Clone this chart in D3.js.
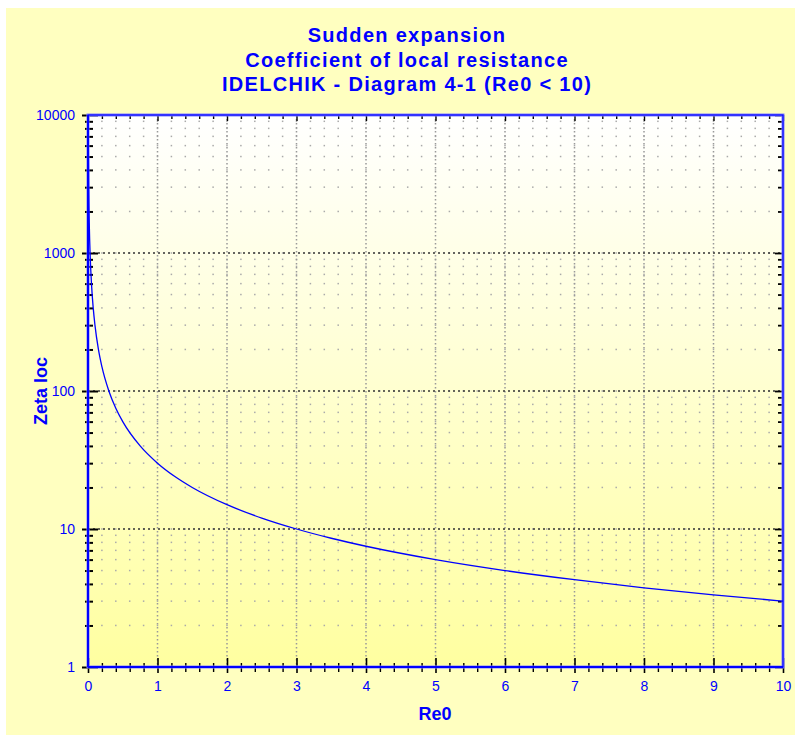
<!DOCTYPE html>
<html>
<head>
<meta charset="utf-8">
<script src="https://cdn.jsdelivr.net/npm/d3@7"></script>
<style>
  body { margin: 0; background: #fff; }
  text { font-family: "Liberation Sans", Arial, sans-serif; }
</style>
</head>
<body>
<svg id="chart" width="795" height="735"></svg>
<script>
const titleLines = ['Sudden expansion', 'Coefficient of local resistance', 'IDELCHIK - Diagram 4-1 (Re0 < 10)'];
const re0 = [0.003, 0.005, 0.01, 0.02, 0.03, 0.05, 0.075, 0.1, 0.15, 0.2, 0.3, 0.4, 0.5, 0.75, 1, 1.25, 1.5, 2, 2.5, 3, 3.5, 4, 5, 6, 7, 8, 9, 10];
const zeta = [10000, 6000, 3000, 1500, 1000, 600, 400, 300, 200, 150, 100, 75, 60, 40, 30, 24, 20, 15, 12, 10, 8.57, 7.5, 6, 5, 4.29, 3.75, 3.33, 3];
const xTicks = [0, 1, 2, 3, 4, 5, 6, 7, 8, 9, 10];
const yTicks = [1, 10, 100, 1000, 10000];

const svg = d3.select('#chart');
const blue = '#0000ff';
const m = { left: 88, right: 783, top: 115, bottom: 667 };

const defs = svg.append('defs');
const grad = defs.append('linearGradient').attr('id', 'plotBg').attr('x1', 0).attr('y1', 0).attr('x2', 0).attr('y2', 1);
grad.append('stop').attr('offset', '0%').attr('stop-color', '#ffffff');
grad.append('stop').attr('offset', '100%').attr('stop-color', '#ffffa0');

svg.append('rect').attr('x', 6).attr('y', 8).attr('width', 789).attr('height', 727).attr('fill', '#ffffc0');

const x = d3.scaleLinear().domain([0, 10]).range([m.left, m.right]);
const y = d3.scaleLog().domain([1, 10000]).range([m.bottom, m.top]);

svg.append('rect').attr('x', m.left).attr('y', m.top).attr('width', m.right - m.left).attr('height', m.bottom - m.top).attr('fill', 'url(#plotBg)');

// minor values
const xMinor = d3.range(0, 50).map((i) => i * 0.2).filter((v) => Math.abs(v - Math.round(v)) > 1e-6);
const xAll = d3.range(0, 51).map((i) => i * 0.2);
const yMinor = [];
[1, 10, 100, 1000].forEach((d) => { for (let k = 2; k <= 9; k++) yMinor.push(d * k); });

// minor grid: dots at the crossings
const grid = svg.append('g');
const crossings = [];
xAll.forEach((xv) => yMinor.forEach((yv) => crossings.push([xv, yv])));
xMinor.forEach((xv) => yTicks.forEach((yv) => crossings.push([xv, yv])));
grid.selectAll('.dot').data(crossings).enter().append('rect')
  .attr('x', (d) => x(d[0]) - 0.75).attr('y', (d) => y(d[1]) - 0.75)
  .attr('width', 1.5).attr('height', 1.5).attr('fill', '#aaa');
grid.selectAll('.xmaj').data(xTicks.slice(1, -1)).enter().append('line')
  .attr('x1', (d) => x(d)).attr('x2', (d) => x(d)).attr('y1', m.top).attr('y2', m.bottom)
  .attr('stroke', '#999').attr('stroke-width', 1.5).attr('stroke-dasharray', '1.5,2.5');
grid.selectAll('.ymaj').data(yTicks.slice(1, -1)).enter().append('line')
  .attr('x1', m.left).attr('x2', m.right).attr('y1', (d) => y(d)).attr('y2', (d) => y(d))
  .attr('stroke', '#333').attr('stroke-width', 1.5).attr('stroke-dasharray', '2,3');

// axes
const axisLeft = svg.append('g').attr('transform', `translate(${m.left},0)`)
  .call(d3.axisLeft(y).tickValues(yTicks).tickFormat(d3.format('d')).tickSize(6).tickPadding(7));
axisLeft.selectAll('.tick line').attr('stroke', '#000').attr('stroke-width', 2).attr('x1', 10);
const axisLeftMinor = svg.append('g').attr('transform', `translate(${m.left},0)`)
  .call(d3.axisLeft(y).tickValues(yMinor).tickFormat('').tickSize(0));
axisLeftMinor.selectAll('.tick line').attr('stroke', '#000').attr('stroke-width', 2).attr('x1', -3).attr('x2', 5);

const axisBottom = svg.append('g').attr('transform', `translate(0,${m.bottom})`)
  .call(d3.axisBottom(x).tickValues(xTicks).tickFormat(d3.format('d')).tickSize(6).tickPadding(8));
axisBottom.selectAll('.tick line').attr('stroke', '#000').attr('stroke-width', 1.6).attr('y1', -9);
const axisBottomMinor = svg.append('g').attr('transform', `translate(0,${m.bottom})`)
  .call(d3.axisBottom(x).tickValues(xMinor).tickFormat('').tickSize(0));
axisBottomMinor.selectAll('.tick line').attr('stroke', '#000').attr('stroke-width', 1.4).attr('y1', -4).attr('y2', 5);

const axisTop = svg.append('g').attr('transform', `translate(0,${m.top})`)
  .call(d3.axisBottom(x).tickValues(xAll).tickFormat('').tickSize(4));
axisTop.selectAll('.tick line').attr('stroke', '#000').attr('stroke-width', 1.4)
  .attr('y2', (d) => (Math.abs(d - Math.round(d)) < 1e-6 ? 6 : 4));
const axisRight = svg.append('g').attr('transform', `translate(${m.right},0)`)
  .call(d3.axisLeft(y).tickValues(yMinor.concat(yTicks)).tickFormat('').tickSize(5));
axisRight.selectAll('.tick line').attr('stroke', '#000').attr('stroke-width', 1.8)
  .attr('x2', (d) => (yTicks.includes(d) ? -8 : -5));

[axisLeft, axisLeftMinor, axisBottom, axisBottomMinor, axisTop, axisRight].forEach((a) => a.select('.domain').remove());
[axisLeft, axisBottom].forEach((a) => a.attr('font-size', 14).selectAll('.tick text')
  .attr('fill', blue).attr('font-size', 14).attr('font-family', '"Liberation Sans", Arial, sans-serif'));

// frame
svg.append('rect').attr('x', m.left).attr('y', m.top).attr('width', m.right - m.left).attr('height', m.bottom - m.top)
  .attr('fill', 'none').attr('stroke', '#8080ff').attr('stroke-width', 3);
svg.append('rect').attr('x', m.left).attr('y', m.top).attr('width', m.right - m.left).attr('height', m.bottom - m.top)
  .attr('fill', 'none').attr('stroke', blue).attr('stroke-width', 1.2);
svg.append('line').attr('x1', m.left).attr('x2', m.left).attr('y1', m.top).attr('y2', m.bottom).attr('stroke', blue).attr('stroke-width', 2);
svg.append('line').attr('x1', m.left).attr('x2', m.right).attr('y1', m.bottom).attr('y2', m.bottom).attr('stroke', blue).attr('stroke-width', 2);

// curve
const pts = re0.map((r, i) => [r, zeta[i]]);
svg.append('path').datum(pts)
  .attr('fill', 'none').attr('stroke', blue).attr('stroke-width', 1.3)
  .attr('d', d3.line().x((d) => x(d[0])).y((d) => y(d[1])).curve(d3.curveMonotoneX));

// titles
svg.append('g').selectAll('text').data(titleLines).enter().append('text')
  .attr('x', 407).attr('y', (d, i) => 42 + i * 24.5)
  .attr('text-anchor', 'middle').attr('font-size', 20).attr('font-weight', 'bold')
  .attr('letter-spacing', 1.3).attr('fill', blue)
  .text((d) => d);

svg.append('text').attr('x', 435).attr('y', 720).attr('text-anchor', 'middle')
  .attr('font-size', 18).attr('font-weight', 'bold').attr('fill', blue).text('Re0');
svg.append('text').attr('transform', 'translate(47,391) rotate(-90)').attr('text-anchor', 'middle')
  .attr('font-size', 18).attr('font-weight', 'bold').attr('fill', blue).text('Zeta loc');
</script>
</body>
</html>
